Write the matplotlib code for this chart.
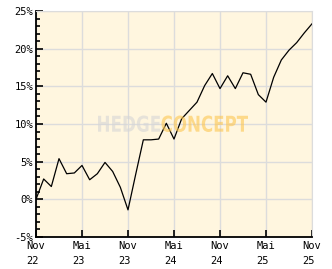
import matplotlib.pyplot as plt
import numpy as np
from matplotlib.ticker import MultipleLocator, FixedLocator
from matplotlib.textpath import TextPath
from matplotlib.patches import PathPatch
from matplotlib.font_manager import FontProperties
import matplotlib.transforms as mtransforms

# monthly performance in %, Nov 22 .. Nov 25
months = ['Nov 22', 'Dez 22', 'Jan 23', 'Feb 23', 'Mar 23', 'Apr 23', 'Mai 23', 'Jun 23',
          'Jul 23', 'Aug 23', 'Sep 23', 'Okt 23', 'Nov 23', 'Dez 23', 'Jan 24', 'Feb 24',
          'Mar 24', 'Apr 24', 'Mai 24', 'Jun 24', 'Jul 24', 'Aug 24', 'Sep 24', 'Okt 24',
          'Nov 24', 'Dez 24', 'Jan 25', 'Feb 25', 'Mar 25', 'Apr 25', 'Mai 25', 'Jun 25',
          'Jul 25', 'Aug 25', 'Sep 25', 'Okt 25', 'Nov 25']
perf = [0.0, 2.7, 1.7, 5.4, 3.4, 3.5, 4.5, 2.6, 3.4, 4.9, 3.7, 1.6, -1.4,
        3.3, 7.9, 7.9, 8.0, 10.1, 8.0, 10.7, 11.8, 12.9, 15.1, 16.7,
        14.7, 16.4, 14.7, 16.8, 16.6, 13.9, 12.9, 16.2, 18.5, 19.8, 20.8, 22.1, 23.3]
tick_labels = ['Nov\n22', 'Mai\n23', 'Nov\n23', 'Mai\n24', 'Nov\n24', 'Mai\n25', 'Nov\n25']
y_ticks = [-5, 0, 5, 10, 15, 20, 25]

bg = '#fff6df'
gridc = '#dcdcdc'

fig = plt.figure(figsize=(3.32, 2.69), dpi=100)
ax = fig.add_axes([36/332, 1-237/269, 276/332, 226/269])
ax.set_facecolor(bg)

x = np.arange(len(perf))
ax.plot(x, perf, color='black', lw=0.9)

ax.set_xlim(0, len(perf)-1)
ax.set_ylim(-5, 25)
ax.xaxis.set_major_locator(FixedLocator(range(0, len(perf), 6)))
ax.set_xticklabels(tick_labels, family='DejaVu Sans Mono', fontsize=7.5,
                   multialignment='left', linespacing=1.6)
ax.set_yticks(y_ticks)
ax.set_yticklabels([f'{v}%' for v in y_ticks], family='DejaVu Sans Mono', fontsize=7.5)
ax.yaxis.set_minor_locator(MultipleLocator(1))

ax.tick_params(axis='y', which='major', direction='in', length=5, width=1.2, pad=2)
ax.tick_params(axis='y', which='minor', direction='in', length=3, width=1.2)
ax.tick_params(axis='x', which='major', direction='in', length=5, width=1.2, pad=3)

ax.grid(True, which='major', color=gridc, lw=1)
ax.set_axisbelow(True)
for s in ['top', 'right']:
    ax.spines[s].set_color(gridc)
for s in ['left', 'bottom']:
    ax.spines[s].set_linewidth(1.3)

# watermark, squeezed into its box (pixel coords, origin bottom-left)
fp = FontProperties(family='DejaVu Sans', weight='bold')
def stamp(word, x0, x1, y0, y1, color):
    p = TextPath((0, 0), word, size=1, prop=fp)
    ext = p.get_extents()
    tr = (mtransforms.Affine2D()
          .translate(-ext.x0, -ext.y0)
          .scale((x1 - x0) / ext.width, (y1 - y0) / ext.height)
          .translate(x0, y0))
    patch = PathPatch(tr.transform_path(p), transform=mtransforms.IdentityTransform(),
                      facecolor=color, edgecolor='none', alpha=0.6, zorder=5)
    fig.add_artist(patch)

stamp('HEDGE', 98, 160, 137, 153.5, '#d6d6d6')
stamp('CONCEPT', 161.5, 248, 137, 153.5, '#fcc651')

fig.savefig('out.png', dpi=100)
